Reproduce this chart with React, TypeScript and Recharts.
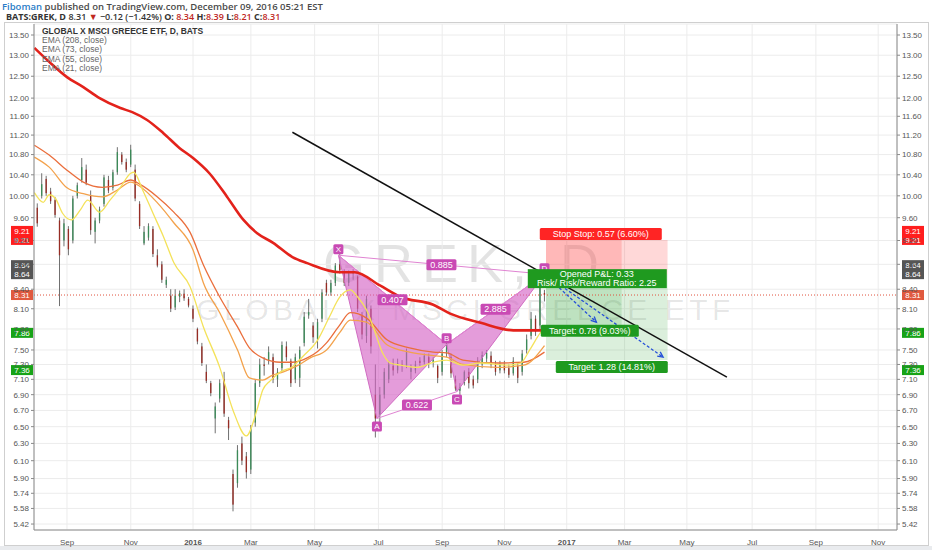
import React from "react";
import {
  ComposedChart,
  Bar,
  Line,
  XAxis,
  YAxis,
  CartesianGrid,
  ReferenceLine,
  ReferenceArea,
  ReferenceDot,
} from "recharts";

// bar index = trading days since Sep 1 2015
const monthTicks = [0, 43, 85, 124, 167, 210, 253, 295, 337, 376, 418, 462, 505, 547];
const monthLabels = ["Sep", "Nov", "2016", "Mar", "May", "Jul", "Sep", "Nov", "2017", "Mar", "May", "Jul", "Sep", "Nov"];
const priceTicks = [13.5, 13, 12.5, 12, 11.6, 11.2, 10.8, 10.4, 10, 9.6, 9.2, 8.8, 8.4, 8.1, 7.8, 7.5, 7.3, 7.1, 6.9, 6.7, 6.5, 6.3, 6.1, 5.9, 5.74, 5.58, 5.42];

// candles, one every 3 sessions
const days = [-20, -17, -14, -11, -8, -5, -2, 1, 4, 7, 10, 13, 16, 19, 22, 25, 28, 31, 34, 37, 40, 43, 46, 49, 52, 55, 58, 61, 64, 67, 70, 73, 76, 79, 82, 85, 88, 91, 94, 97, 100, 103, 106, 109, 112, 115, 118, 121, 124, 127, 130, 133, 136, 139, 142, 145, 148, 151, 154, 157, 160, 163, 166, 169, 172, 175, 178, 181, 184, 187, 190, 193, 196, 199, 202, 205, 208, 211, 214, 217, 220, 223, 226, 229, 232, 235, 238, 241, 244, 247, 250, 253, 256, 259, 262, 265, 268, 271, 274, 277, 280, 283, 286, 289, 292, 295, 298, 301, 304, 307, 310, 313, 316, 319, 322];
const opens = [9.78, 10.0, 10.32, 10.08, 9.92, 9.55, 9.2, 9.4, 9.2, 10.0, 10.3, 10.5, 10.0, 9.35, 9.55, 9.85, 10.3, 10.15, 10.45, 10.8, 10.65, 10.6, 10.5, 9.85, 9.15, 9.25, 9.4, 8.95, 8.8, 8.47, 8.3, 8.12, 8.28, 8.33, 8.25, 8.1, 7.8, 7.55, 7.2, 7.05, 6.6, 6.85, 7.1, 6.58, 5.95, 5.85, 6.3, 6.15, 6.0, 6.55, 7.05, 7.3, 7.35, 7.4, 7.1, 7.25, 7.55, 7.35, 7.1, 7.12, 7.6, 8.0, 7.85, 7.65, 7.95, 8.5, 8.35, 8.5, 8.8, 8.68, 8.5, 8.65, 8.6, 8.0, 7.7, 8.1, 6.9, 6.65, 6.9, 7.1, 7.28, 7.22, 7.3, 7.28, 7.2, 7.22, 7.35, 7.33, 7.4, 7.32, 7.28, 7.2, 7.45, 7.4, 7.1, 6.95, 7.05, 7.2, 7.1, 7.1, 7.3, 7.38, 7.42, 7.3, 7.22, 7.3, 7.25, 7.18, 7.28, 7.2, 7.5, 7.7, 7.95, 7.85, 8.34];
const highs = [9.86, 10.43, 10.38, 10.15, 9.98, 9.6, 9.58, 9.45, 10.0, 10.25, 10.73, 10.6, 10.1, 9.6, 9.8, 10.4, 10.38, 10.5, 10.95, 10.85, 10.72, 11.0, 10.6, 9.9, 9.45, 9.5, 9.45, 9.05, 8.85, 8.6, 8.4, 8.4, 8.38, 8.4, 8.28, 8.15, 7.82, 7.6, 7.3, 7.08, 6.8, 7.1, 7.2, 6.62, 6.0, 6.28, 6.38, 6.2, 6.52, 7.1, 7.38, 7.4, 7.55, 7.45, 7.25, 7.62, 7.62, 7.38, 7.45, 7.55, 8.05, 8.25, 7.9, 7.95, 8.4, 8.55, 8.55, 8.82, 9.0, 8.72, 8.7, 8.72, 8.62, 8.05, 8.3, 8.15, 7.3, 7.0, 7.25, 7.35, 7.38, 7.38, 7.36, 7.52, 7.3, 7.35, 7.4, 7.45, 7.45, 7.4, 7.3, 7.5, 7.62, 7.45, 7.15, 7.05, 7.22, 7.25, 7.15, 7.4, 7.48, 7.5, 7.48, 7.35, 7.35, 7.35, 7.3, 7.4, 7.32, 7.5, 7.72, 8.05, 8.0, 8.64, 8.39];
const lows = [9.44, 9.95, 10.0, 9.85, 9.6, 8.14, 9.1, 8.95, 9.15, 9.95, 10.25, 10.2, 9.3, 9.15, 9.5, 9.8, 10.05, 10.1, 10.4, 10.6, 10.45, 10.55, 9.9, 9.4, 9.12, 9.2, 8.92, 8.75, 8.5, 8.42, 8.05, 8.08, 8.2, 8.22, 8.12, 7.9, 7.58, 7.28, 7.05, 6.88, 6.42, 6.8, 6.62, 6.34, 5.55, 5.8, 6.05, 5.9, 5.95, 6.5, 7.0, 7.15, 7.3, 7.05, 7.0, 7.2, 7.35, 7.0, 7.05, 7.0, 7.55, 7.95, 7.6, 7.52, 7.9, 8.3, 8.3, 8.45, 8.65, 8.45, 8.45, 8.55, 8.05, 7.65, 7.6, 7.45, 6.37, 6.55, 6.85, 7.05, 7.15, 7.18, 7.2, 7.25, 7.1, 7.18, 7.28, 7.3, 7.25, 7.26, 7.05, 7.15, 7.4, 7.12, 6.95, 6.9, 7.02, 6.98, 6.98, 7.05, 7.25, 7.32, 7.25, 7.15, 7.18, 7.18, 7.12, 7.15, 7.05, 7.15, 7.45, 7.65, 7.7, 7.8, 8.21];
const closes = [9.5, 10.22, 10.05, 9.9, 9.65, 8.95, 9.5, 9.05, 9.95, 10.2, 10.55, 10.25, 9.38, 9.55, 9.75, 10.35, 10.1, 10.45, 10.85, 10.65, 10.5, 10.9, 9.95, 9.45, 9.35, 9.45, 8.97, 8.78, 8.55, 8.55, 8.1, 8.3, 8.34, 8.26, 8.15, 7.95, 7.62, 7.32, 7.08, 6.92, 6.75, 7.05, 6.66, 6.48, 5.62, 6.22, 6.1, 5.97, 6.48, 7.05, 7.3, 7.28, 7.47, 7.1, 7.2, 7.57, 7.4, 7.05, 7.4, 7.5, 7.98, 8.05, 7.68, 7.9, 8.35, 8.35, 8.5, 8.78, 8.7, 8.5, 8.65, 8.68, 8.1, 7.72, 8.25, 7.55, 6.6, 6.9, 7.2, 7.3, 7.22, 7.32, 7.28, 7.48, 7.25, 7.3, 7.32, 7.42, 7.32, 7.36, 7.12, 7.45, 7.58, 7.18, 6.98, 7.0, 7.2, 7.05, 7.02, 7.35, 7.43, 7.46, 7.3, 7.2, 7.3, 7.22, 7.16, 7.35, 7.12, 7.45, 7.65, 7.95, 7.76, 8.42, 8.31];

// moving averages: [bar index, price]
const ema208 = [[-22, 13.18], [-12, 12.84], [0, 12.48], [11, 12.25], [22, 12.0], [36, 11.78], [44, 11.69], [54, 11.52], [65, 11.24], [76, 10.93], [85, 10.73], [96, 10.43], [108, 9.98], [119, 9.56], [128, 9.33], [139, 9.16], [152, 8.92], [162, 8.82], [184, 8.67], [194, 8.67], [211, 8.46], [225, 8.28], [247, 8.16], [258, 8.03], [279, 7.89], [301, 7.78], [322, 7.78]];
const ema73 = [[-22, 10.99], [-12, 10.79], [0, 10.49], [11, 10.26], [24, 10.16], [34, 10.2], [43, 10.3], [49, 10.22], [61, 9.98], [72, 9.7], [83, 9.34], [92, 8.79], [103, 8.28], [115, 7.83], [123, 7.53], [132, 7.39], [144, 7.33], [152, 7.33], [162, 7.39], [169, 7.48], [175, 7.6], [184, 7.86], [191, 8.04], [202, 7.96], [216, 7.64], [231, 7.53], [247, 7.47], [256, 7.46], [267, 7.36], [290, 7.32], [308, 7.33], [322, 7.47]];
const ema55 = [[-22, 10.75], [-12, 10.55], [0, 10.15], [11, 10.04], [24, 9.98], [34, 10.11], [43, 10.26], [49, 10.18], [61, 9.87], [72, 9.51], [85, 9.04], [92, 8.5], [103, 8.04], [115, 7.5], [123, 7.12], [132, 7.09], [138, 7.15], [146, 7.2], [155, 7.28], [164, 7.39], [175, 7.5], [184, 7.75], [191, 7.93], [202, 7.9], [216, 7.57], [231, 7.47], [247, 7.42], [256, 7.4], [267, 7.3], [290, 7.26], [308, 7.29], [322, 7.56]];
const ema21 = [[-22, 10.06], [-16, 9.88], [-12, 10.02], [-8, 9.96], [-3, 9.68], [3, 9.56], [9, 9.74], [14, 9.92], [22, 9.7], [29, 9.92], [36, 10.16], [43, 10.43], [45, 10.45], [51, 10.11], [58, 9.68], [65, 9.27], [72, 8.83], [83, 8.44], [92, 7.83], [103, 7.26], [112, 6.7], [121, 6.39], [128, 6.7], [132, 6.96], [137, 7.08], [144, 7.2], [152, 7.27], [159, 7.41], [169, 7.64], [177, 7.98], [184, 8.28], [191, 8.39], [196, 8.28], [202, 8.08], [207, 7.8], [213, 7.45], [218, 7.32], [225, 7.29], [236, 7.26], [247, 7.33], [256, 7.36], [267, 7.29], [279, 7.32], [297, 7.29], [306, 7.32], [312, 7.5], [319, 7.74], [322, 7.82]];

// harmonic pattern
const patternNames = ["X", "A", "B", "C", "D"];
const patternDays = [183, 209, 256, 263, 322];
const patternPrices = [8.95, 6.6, 7.58, 6.94, 8.64];
const ratioText = ["0.885", "0.407", "2.885", "0.622"];
const ratioFrom = [0, 0, 2, 1];
const ratioTo = [4, 2, 4, 3];

// short position tool
const entryPrice = 8.64;
const stopPrice = 9.21;
const targetPrices = [7.86, 7.36];
const positionStart = 323;
const positionEnds = [374, 405];
const arrowEnds = [[357, 7.9], [402, 7.4]];

const trendStart = [152, 11.26];
const trendEnd = [445, 7.13];
const lastPrice = 8.31;

const UP = "#3b8a58";
const DOWN = "#962c24";
const PINK = "#c94ab4";
const X_DOMAIN = [-22.25, 559.7];
const Y_DOMAIN = [5.36, 13.78];

const candles = days.map((i, k) => ({
  i,
  o: opens[k],
  h: highs[k],
  l: lows[k],
  c: closes[k],
  range: [lows[k], highs[k]],
}));
const pts = (a: number[][]) => a.map(([i, v]) => ({ i, v }));
const vtx = (k: number) => ({ i: patternDays[k], v: patternPrices[k] });

function Candle(props: any) {
  const { x, y, width, height, payload } = props;
  if (!payload || height == null || isNaN(y)) return null;
  const top = Math.min(y, y + height);
  const bot = Math.max(y, y + height);
  const lh = Math.log(payload.h);
  const ll = Math.log(payload.l);
  const py = (v: number) => (lh === ll ? top : top + ((bot - top) * (lh - Math.log(v))) / (lh - ll));
  const up = payload.c >= payload.o;
  const b1 = py(Math.max(payload.o, payload.c));
  const b2 = py(Math.min(payload.o, payload.c));
  const cx = x + width / 2;
  return (
    <g>
      <line x1={cx} x2={cx} y1={top} y2={bot} stroke="#707070" strokeWidth={1} />
      <rect x={x} y={b1} width={width} height={Math.max(1, b2 - b1)} fill={up ? UP : DOWN} />
    </g>
  );
}

function Badge({ cx, cy, text, w, dy = 0, bg = PINK, h = 11, size = 9 }: any) {
  if (cx == null || cy == null) return null;
  return (
    <g>
      <rect x={cx - w / 2} y={cy + dy - h / 2} width={w} height={h} rx={1.5} fill={bg} />
      <text x={cx} y={cy + dy + size * 0.35} textAnchor="middle" fontSize={size} fill="#fff">
        {text}
      </text>
    </g>
  );
}

function Tag({ cx, cy, text, bg, dy = 0, side }: any) {
  if (cx == null || cy == null) return null;
  const x0 = side === "left" ? cx - 23 : cx + 5;
  return (
    <g>
      <rect x={x0} y={cy + dy - 5} width={22} height={10} fill={bg} />
      <text x={x0 + 11} y={cy + dy + 3} textAnchor="middle" fontSize={8} fill="#fff">
        {text}
      </text>
    </g>
  );
}

function Arrow(props: any) {
  const { x1, y1, x2, y2 } = props;
  if ([x1, y1, x2, y2].some((v) => v == null || isNaN(v))) return null;
  const a = Math.atan2(y2 - y1, x2 - x1);
  const L = 6;
  const p1 = [x2 - L * Math.cos(a - 0.45), y2 - L * Math.sin(a - 0.45)];
  const p2 = [x2 - L * Math.cos(a + 0.45), y2 - L * Math.sin(a + 0.45)];
  return (
    <g>
      <line x1={x1} y1={y1} x2={x2} y2={y2} stroke="#2550d8" strokeWidth={1.3} strokeDasharray="3 2" />
      <path d={`M${p1[0]},${p1[1]} L${x2},${y2} L${p2[0]},${p2[1]}`} stroke="#2550d8" strokeWidth={1.3} fill="none" />
    </g>
  );
}

function XTick({ x, y, payload }: any) {
  const k = monthTicks.indexOf(payload.value);
  const label = monthLabels[k] ?? "";
  const bold = /^\d/.test(label);
  return (
    <text x={x} y={y + 7} textAnchor="middle" fontSize={8} fill="#555" fontWeight={bold ? 700 : 400}>
      {label}
    </text>
  );
}

const tags = [
  { price: stopPrice, text: "9.21", bg: "#ff1e1e", dy: -9 },
  { price: stopPrice, text: "9.21", bg: "#ff1e1e", dy: 0 },
  { price: entryPrice, text: "8.64", bg: "#555555", dy: -9 },
  { price: entryPrice, text: "8.64", bg: "#555555", dy: 0 },
  { price: lastPrice, text: "8.31", bg: "#e0593f", dy: 0 },
  { price: targetPrices[0], text: "7.86", bg: "#17a317", dy: 8 },
  { price: targetPrices[1], text: "7.36", bg: "#17a317", dy: 10 },
];

export default function App() {
  const font = "Arial, 'Liberation Sans', sans-serif";
  const mid = (a: number, b: number) => (a + b) / 2;
  const gmid = (a: number, b: number) => Math.sqrt(a * b);
  return (
    <div style={{ position: "absolute", left: 0, top: 0, width: 932, height: 550, background: "#fff", overflow: "hidden", fontFamily: font }}>
      <style>{`.pat .recharts-line-curve{fill:rgba(212,96,196,0.62)}`}</style>
      {/* header */}
      <div style={{ position: "absolute", left: 2, top: 0, fontSize: 9.5, fontWeight: 600, color: "#4a4a4a", whiteSpace: "nowrap", fontFamily: "'Open Sans', Arial, sans-serif" }}>
        <span style={{ color: "#2a7cc7" }}>Fiboman</span> published on TradingView.com, December 09, 2016 05:21 EST
      </div>
      <div style={{ position: "absolute", left: 6, top: 10, fontSize: 9, fontWeight: 700, color: "#333", whiteSpace: "nowrap", fontFamily: "'Open Sans', Arial, sans-serif" }}>
        BATS:GREK, D <span style={{ fontWeight: 600 }}>8.31</span> <span style={{ color: "#c0281e" }}>▼</span>{" "}
        <span style={{ fontWeight: 600 }}>−0.12 (−1.42%)</span> O: <span style={{ color: "#c0281e", fontWeight: 600 }}>8.34</span> H:
        <span style={{ color: "#c0281e", fontWeight: 600 }}>8.39</span> L:<span style={{ color: "#c0281e", fontWeight: 600 }}>8.21</span> C:
        <span style={{ color: "#c0281e", fontWeight: 600 }}>8.31</span>
      </div>
      {/* frame */}
      <div style={{ position: "absolute", left: 4, top: 22, width: 923, height: 522, border: "1px solid #cfcfcf" }} />
      <div style={{ position: "absolute", left: 0, top: 546, width: 932, height: 4, background: "#e9ebee" }} />
      {/* watermark */}
      <div style={{ position: "absolute", left: 34, width: 863, top: 236, textAlign: "center", fontSize: 54, letterSpacing: 9, color: "rgba(0,0,0,0.11)", fontFamily: font, lineHeight: "54px" }}>
        GREK, D
      </div>
      <div style={{ position: "absolute", left: 34, width: 863, top: 294, textAlign: "center", fontSize: 30, letterSpacing: 4.5, color: "rgba(0,0,0,0.1)", fontFamily: font, lineHeight: "32px" }}>
        GLOBAL X MSCI GREECE ETF
      </div>
      <div style={{ position: "absolute", left: 0, top: 0 }}>
        <ComposedChart width={932} height={550} data={candles} margin={{ top: 24, right: 0, bottom: 0, left: 0 }} style={{ fontFamily: font }}>
          <CartesianGrid yAxisId="p" stroke="#ececec" strokeWidth={1} />
          <XAxis
            dataKey="i"
            type="number"
            domain={X_DOMAIN}
            allowDataOverflow
            ticks={monthTicks}
            tick={<XTick />}
            tickLine={false}
            stroke="#8a8a8a"
            height={20}
            interval={0}
          />
          <YAxis
            yAxisId="p"
            scale="log"
            domain={Y_DOMAIN}
            allowDataOverflow
            ticks={priceTicks}
            interval={0}
            width={34}
            tickSize={3}
            tickMargin={2}
            stroke="#8a8a8a"
            tick={{ fontSize: 8, fill: "#555" }}
            tickFormatter={(v: number) => v.toFixed(2)}
          />
          <YAxis
            yAxisId="r"
            orientation="right"
            scale="log"
            domain={Y_DOMAIN}
            allowDataOverflow
            ticks={priceTicks}
            interval={0}
            width={35}
            tickSize={3}
            tickMargin={2}
            stroke="#8a8a8a"
            tick={{ fontSize: 8, fill: "#555" }}
            tickFormatter={(v: number) => v.toFixed(2)}
          />

          {/* position boxes */}
          {positionEnds.map((e, k) => (
            <ReferenceArea key={"s" + k} yAxisId="p" x1={positionStart} x2={e} y1={entryPrice} y2={stopPrice} fill="#ff3c3c" fillOpacity={0.2} stroke="none" ifOverflow="visible" />
          ))}
          {positionEnds.map((e, k) => (
            <ReferenceArea key={"t" + k} yAxisId="p" x1={positionStart} x2={e} y1={targetPrices[k]} y2={entryPrice} fill="#4caf50" fillOpacity={0.2} stroke="none" ifOverflow="visible" />
          ))}

          <ReferenceLine yAxisId="p" y={lastPrice} stroke="#e0523c" strokeDasharray="1 2" strokeWidth={1} />

          {/* XABCD pattern */}
          <Line className="pat" yAxisId="p" data={[vtx(0), vtx(1), vtx(2), vtx(0)]} dataKey="v" type="linear" stroke="#d06cc2" strokeWidth={1} dot={false} isAnimationActive={false} />
          <Line className="pat" yAxisId="p" data={[vtx(2), vtx(3), vtx(4), vtx(2)]} dataKey="v" type="linear" stroke="#d06cc2" strokeWidth={1} dot={false} isAnimationActive={false} />
          {ratioText.map((t, k) => (
            <ReferenceLine
              key={"rl" + k}
              yAxisId="p"
              segment={[vtx(ratioFrom[k]), vtx(ratioTo[k])].map((p) => ({ x: p.i, y: p.v }))}
              stroke="#e084d2"
              strokeWidth={1}
            />
          ))}

          {/* candles */}
          <Bar yAxisId="p" dataKey="range" barSize={3} shape={<Candle />} isAnimationActive={false} />

          {/* EMAs */}
          <Line yAxisId="p" data={pts(ema73)} dataKey="v" type="monotone" stroke="#ea6e3c" strokeWidth={1.3} dot={false} isAnimationActive={false} />
          <Line yAxisId="p" data={pts(ema55)} dataKey="v" type="monotone" stroke="#f3a24c" strokeWidth={1.3} dot={false} isAnimationActive={false} />
          <Line yAxisId="p" data={pts(ema21)} dataKey="v" type="monotone" stroke="#f4e25a" strokeWidth={1.3} dot={false} isAnimationActive={false} />
          <Line yAxisId="p" data={pts(ema208)} dataKey="v" type="monotone" stroke="#e3221b" strokeWidth={2.6} dot={false} isAnimationActive={false} />

          {/* trend line */}
          <ReferenceLine
            yAxisId="p"
            segment={[{ x: trendStart[0], y: trendStart[1] }, { x: trendEnd[0], y: trendEnd[1] }]}
            stroke="#111"
            strokeWidth={1.5}
          />

          {/* projected moves */}
          {arrowEnds.map((a, k) => (
            <ReferenceLine key={"ar" + k} yAxisId="p" segment={[{ x: patternDays[4], y: entryPrice }, { x: a[0], y: a[1] }]} shape={<Arrow />} ifOverflow="visible" />
          ))}

          {/* ratio badges */}
          {ratioText.map((t, k) => (
            <ReferenceDot
              key={"rb" + k}
              yAxisId="p"
              x={mid(patternDays[ratioFrom[k]], patternDays[ratioTo[k]])}
              y={gmid(patternPrices[ratioFrom[k]], patternPrices[ratioTo[k]])}
              ifOverflow="visible"
              shape={(p: any) => <Badge cx={p.cx} cy={p.cy} text={t} w={30} />}
            />
          ))}
          {patternNames.map((n, k) => (
            <ReferenceDot
              key={"pn" + k}
              yAxisId="p"
              x={patternDays[k]}
              y={patternPrices[k]}
              ifOverflow="visible"
              shape={(p: any) => <Badge cx={p.cx} cy={p.cy} text={n} w={10} h={10} size={8} dy={k === 1 || k === 3 ? 8 : -6} />}
            />
          ))}

          {/* position labels */}
          <ReferenceDot
            yAxisId="p"
            x={mid(positionStart, positionEnds[1])}
            y={stopPrice}
            ifOverflow="visible"
            shape={(p: any) => <Badge cx={p.cx - 6} cy={p.cy} dy={-6} text="Stop  Stop: 0.57 (6.60%)" w={122} h={12} bg="#ff2424" />}
          />
          <ReferenceDot
            yAxisId="p"
            x={mid(positionStart, positionEnds[1])}
            y={entryPrice}
            ifOverflow="visible"
            shape={(p: any) =>
              p.cx == null ? null : (
                <g>
                  <rect x={p.cx - 79} y={p.cy - 5} width={139} height={19} fill="#1f9a1f" />
                  <text x={p.cx - 10} y={p.cy + 3} textAnchor="middle" fontSize={9} fill="#fff">
                    Opened P&amp;L: 0.33
                  </text>
                  <text x={p.cx - 10} y={p.cy + 12} textAnchor="middle" fontSize={9} fill="#fff">
                    Risk/ Risk/Reward Ratio: 2.25
                  </text>
                </g>
              )
            }
          />
          {targetPrices.map((tp, k) => (
            <ReferenceDot
              key={"tl" + k}
              yAxisId="p"
              x={mid(positionStart, positionEnds[k])}
              y={tp}
              ifOverflow="visible"
              shape={(p: any) => (
                <Badge cx={p.cx + (k === 0 ? 6 : 5)} cy={p.cy} dy={k === 0 ? 6 : 7} text={k === 0 ? "Target: 0.78 (9.03%)" : "Target: 1.28 (14.81%)"} w={k === 0 ? 98 : 112} h={12} bg="#1f9a1f" />
              )}
            />
          ))}

          {/* axis price tags */}
          {tags.map((t, k) => (
            <ReferenceDot
              key={"lt" + k}
              yAxisId="p"
              x={X_DOMAIN[0]}
              y={t.price}
              ifOverflow="visible"
              shape={(p: any) => <Tag cx={p.cx} cy={p.cy} text={t.text} bg={t.bg} dy={t.dy} side="left" />}
            />
          ))}
          {tags.map((t, k) => (
            <ReferenceDot
              key={"rt" + k}
              yAxisId="p"
              x={X_DOMAIN[1]}
              y={t.price}
              ifOverflow="visible"
              shape={(p: any) => <Tag cx={p.cx} cy={p.cy} text={t.text} bg={t.bg} dy={t.dy} side="right" />}
            />
          ))}
        </ComposedChart>
      </div>
      {/* legend */}
      <div style={{ position: "absolute", left: 42, top: 27, fontSize: 8.5, lineHeight: "9.2px", color: "#666", fontFamily: font }}>
        <div style={{ color: "#333", fontWeight: 700 }}>GLOBAL X MSCI GREECE ETF, D, BATS</div>
        <div>EMA (208, close)</div>
        <div>EMA (73, close)</div>
        <div>EMA (55, close)</div>
        <div>EMA (21, close)</div>
      </div>
    </div>
  );
}
